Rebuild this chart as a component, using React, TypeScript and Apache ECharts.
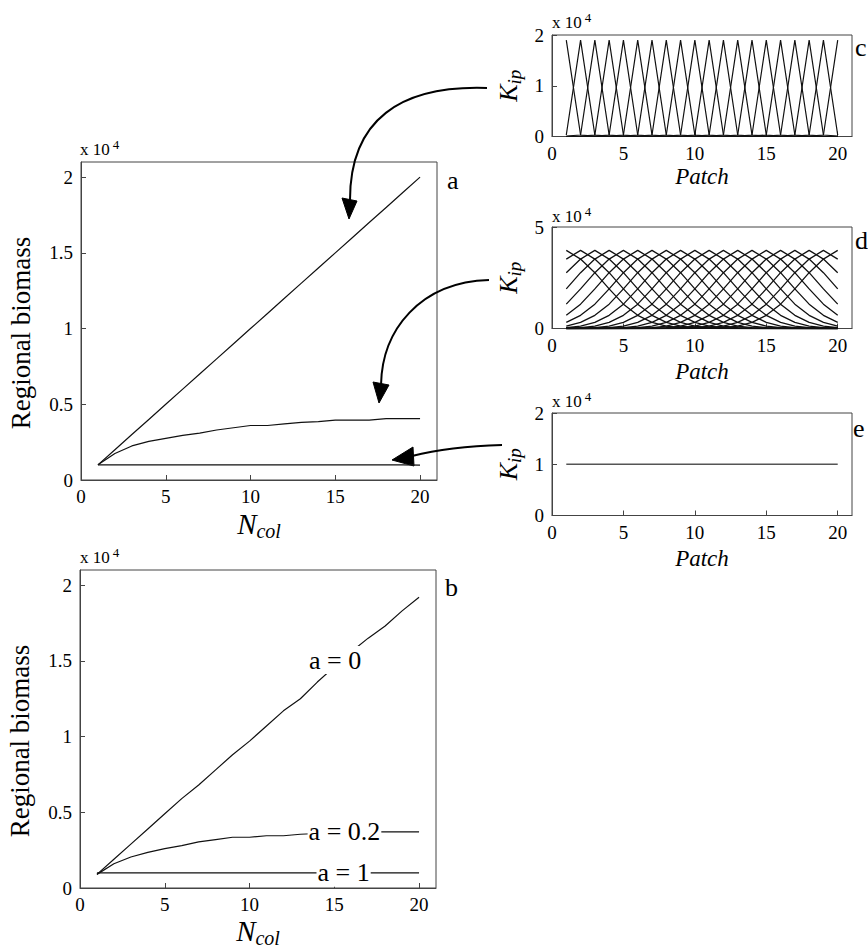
import React, { useEffect, useRef } from "react";
import * as echarts from "echarts";

// ---------- data ----------
const nCol = [1, 2, 3, 4, 5, 6, 7, 8, 9, 10, 11, 12, 13, 14, 15, 16, 17, 18, 19, 20];
const patches = [1, 2, 3, 4, 5, 6, 7, 8, 9, 10, 11, 12, 13, 14, 15, 16, 17, 18, 19, 20];
const species = [1, 2, 3, 4, 5, 6, 7, 8, 9, 10, 11, 12, 13, 14, 15, 16, 17, 18, 19, 20];

// panel a (x 10^4)
const aBiomassA0 = [0.1, 0.2, 0.3, 0.4, 0.5, 0.6, 0.7, 0.8, 0.9, 1.0, 1.1, 1.2, 1.3, 1.4, 1.5, 1.6, 1.7, 1.8, 1.9, 2.0];
const aBiomassA02 = [0.1, 0.175, 0.225, 0.255, 0.275, 0.295, 0.31, 0.33, 0.345, 0.36, 0.36, 0.37, 0.38, 0.385, 0.395, 0.395, 0.395, 0.405, 0.405, 0.405];
const aBiomassA1 = [0.1, 0.1, 0.1, 0.1, 0.1, 0.1, 0.1, 0.1, 0.1, 0.1, 0.1, 0.1, 0.1, 0.1, 0.1, 0.1, 0.1, 0.1, 0.1, 0.098];

// panel b (x 10^4)
const bBiomassA0 = [0.09, 0.19, 0.29, 0.39, 0.49, 0.59, 0.68, 0.78, 0.88, 0.97, 1.07, 1.17, 1.25, 1.36, 1.46, 1.56, 1.65, 1.73, 1.83, 1.92];
const bBiomassA02 = [0.09, 0.16, 0.205, 0.235, 0.26, 0.28, 0.305, 0.32, 0.335, 0.335, 0.345, 0.345, 0.355, 0.36, 0.365, 0.365, 0.37, 0.37, 0.37, 0.37];
const bBiomassA1 = [0.1, 0.1, 0.1, 0.1, 0.1, 0.1, 0.1, 0.1, 0.1, 0.1, 0.1, 0.1, 0.1, 0.1, 0.1, 0.1, 0.1, 0.1, 0.1, 0.1];
const bLabels = ["a = 0", "a = 0.2", "a = 1"];
const bLabelAnchors = [[15.05, 1.505], [15.6, 0.37], [15.55, 0.1]];

// panels c, d: K_ip (x 10^4) as a function of distance |patch - optimum patch|
const cProfile = [1.9, 0.03, 0.01, 0, 0, 0, 0, 0, 0, 0, 0, 0, 0, 0, 0, 0, 0, 0, 0, 0];
const dProfile = [3.85, 3.42, 2.75, 1.95, 1.2, 0.65, 0.3, 0.12, 0.04, 0.012, 0.003, 0, 0, 0, 0, 0, 0, 0, 0, 0];
// panel e: identical K_ip for every patch
const eK = [1, 1, 1, 1, 1, 1, 1, 1, 1, 1, 1, 1, 1, 1, 1, 1, 1, 1, 1, 1];

const yTicksAB = { min: 0, max: 2.1, interval: 0.5 };
const yTicksC = { min: 0, max: 2, interval: 1 };
const yTicksD = { min: 0, max: 5, interval: 5 };
const yTicksE = { min: 0, max: 2, interval: 1 };

// ---------- styles ----------
const serif = "Liberation Serif, Tinos, Times New Roman, serif";
const axisColor = "#444";
const lineColor = "#111";

function pairs(xs: number[], ys: number[]) {
  return xs.map((x, i) => [x, ys[i]]);
}

function xAxis(gridIndex: number, name: string, nameGap: number, italicName: boolean, sub: boolean) {
  return {
    type: "value",
    gridIndex,
    min: 0,
    max: 21,
    interval: 5,
    axisLine: { show: true, onZero: false, lineStyle: { color: axisColor, width: 1 } },
    axisTick: { show: true, inside: true, length: 5, lineStyle: { color: axisColor } },
    axisLabel: { show: true, color: "#000", fontFamily: serif, fontSize: 19, margin: 7, showMaxLabel: false },
    splitLine: { show: false },
    name,
    nameLocation: "middle",
    nameGap,
    nameTextStyle: sub
      ? {
          color: "#000",
          fontFamily: serif,
          rich: {
            n: { fontSize: 29, fontStyle: "italic", fontFamily: serif, color: "#000" },
            s: { fontSize: 20, fontStyle: "italic", fontFamily: serif, color: "#000", padding: [14, 0, 0, 0] },
          },
        }
      : { color: "#000", fontFamily: serif, fontSize: 23, fontStyle: italicName ? "italic" : "normal" },
  };
}

function yAxis(gridIndex: number, ticks: any, name: string, nameGap: number, rich: boolean, showMax: boolean) {
  return {
    type: "value",
    gridIndex,
    min: ticks.min,
    max: ticks.max,
    interval: ticks.interval,
    axisLine: { show: true, onZero: false, lineStyle: { color: axisColor, width: 1 } },
    axisTick: { show: true, inside: true, length: 5, lineStyle: { color: axisColor } },
    axisLabel: { show: true, color: "#000", fontFamily: serif, fontSize: 19, margin: 8, showMaxLabel: showMax },
    splitLine: { show: false },
    name,
    nameLocation: "middle",
    nameGap,
    nameTextStyle: rich
      ? {
          color: "#000",
          fontFamily: serif,
          rich: {
            k: { fontSize: 26, fontStyle: "italic", fontFamily: serif, color: "#000" },
            s: { fontSize: 19, fontStyle: "italic", fontFamily: serif, color: "#000", padding: [12, 0, 0, 0] },
          },
        }
      : { color: "#000", fontFamily: serif, fontSize: 27, padding: [0, 24, 0, 0] },
  };
}

function grid(left: number, top: number, width: number, height: number) {
  return {
    left,
    top,
    width,
    height,
    show: true,
    borderColor: axisColor,
    borderWidth: 1,
    backgroundColor: "transparent",
    containLabel: false,
    outerBoundsMode: "none",
  };
}

function lineSeries(idx: number, data: number[][], extra: any = {}) {
  return {
    type: "line",
    xAxisIndex: idx,
    yAxisIndex: idx,
    data,
    showSymbol: false,
    symbol: "none",
    silent: true,
    lineStyle: { color: lineColor, width: 1.2 },
    ...extra,
  };
}

function profileSeries(idx: number, profile: number[], width: number) {
  return species.map((s) =>
    lineSeries(
      idx,
      patches.map((p) => [p, profile[Math.abs(p - s)]]),
      { lineStyle: { color: lineColor, width } }
    )
  );
}

function expText(x: number, y: number) {
  return {
    type: "text",
    x,
    y,
    style: {
      text: "{b|x 10}{p|4}",
      fill: "#000",
      rich: {
        b: { fontSize: 17, fontFamily: serif, fill: "#000", color: "#000" },
        p: { fontSize: 13, fontFamily: serif, fill: "#000", color: "#000", padding: [0, 0, 9, 3] },
      },
    },
  };
}

function letter(t: string, x: number, y: number) {
  return {
    type: "text",
    x,
    y,
    style: { text: t, fontSize: 26, fontFamily: serif, fill: "#000", verticalAlign: "middle", textVerticalAlign: "middle" },
  };
}

function arrow(curve: number[], head: number[][]) {
  const [x1, y1, cpx1, cpy1, cpx2, cpy2, x2, y2] = curve;
  return [
    {
      type: "bezierCurve",
      shape: { x1, y1, cpx1, cpy1, cpx2, cpy2, x2, y2 },
      style: { stroke: "#000", lineWidth: 2, fill: "none" },
    },
    { type: "polygon", shape: { points: head }, style: { fill: "#000", stroke: "#000", lineWidth: 1 } },
  ];
}

export default function App() {
  const ref = useRef<HTMLDivElement>(null);
  useEffect(() => {
    if (!ref.current) return;
    const chart = echarts.init(ref.current, null, { renderer: "svg" });
    const bSeries = [bBiomassA0, bBiomassA02, bBiomassA1].map((vals, i) =>
      lineSeries(1, pairs(nCol, vals), {
        markPoint: {
          symbol: "circle",
          symbolSize: 1,
          silent: true,
          z: 10,
          itemStyle: { color: "rgba(0,0,0,0)" },
          label: {
            show: true,
            position: "inside",
            formatter: "{b}",
            color: "#000",
            fontFamily: serif,
            fontSize: 26,
            backgroundColor: "#fff",
            padding: [1, 1],
          },
          data: [{ name: bLabels[i], coord: bLabelAnchors[i] }],
        },
      })
    );
    const option: any = {
      animation: false,
      backgroundColor: "#fff",
      textStyle: { fontFamily: serif },
      grid: [
        grid(81, 162, 356, 318),
        grid(80, 570, 356, 318),
        grid(552, 35, 300, 101.5),
        grid(552, 227, 300, 101.5),
        grid(552, 413, 300, 102.5),
      ],
      xAxis: [
        xAxis(0, "{n|N}{s|col}", 27, false, true),
        xAxis(1, "{n|N}{s|col}", 26, false, true),
        xAxis(2, "Patch", 28, true, false),
        xAxis(3, "Patch", 31, true, false),
        xAxis(4, "Patch", 31, true, false),
      ],
      yAxis: [
        yAxis(0, yTicksAB, "Regional biomass", 47, false, false),
        yAxis(1, yTicksAB, "Regional biomass", 47, false, false),
        yAxis(2, yTicksC, "{k|K}{s|ip}", 28, true, true),
        yAxis(3, yTicksD, "{k|K}{s|ip}", 28, true, true),
        yAxis(4, yTicksE, "{k|K}{s|ip}", 28, true, true),
      ],
      series: [
        lineSeries(0, pairs(nCol, aBiomassA0)),
        lineSeries(0, pairs(nCol, aBiomassA02)),
        lineSeries(0, pairs(nCol, aBiomassA1)),
        ...bSeries,
        ...profileSeries(2, cProfile, 1.2),
        ...profileSeries(3, dProfile, 1.3),
        lineSeries(4, pairs(patches, eK), { lineStyle: { color: "#555", width: 1.3 } }),
      ],
      graphic: [
        expText(80, 138),
        expText(80, 546),
        expText(552, 11),
        expText(552, 205),
        expText(552, 390),
        letter("a", 447, 180),
        letter("b", 445, 587),
        letter("c", 855, 47),
        letter("d", 855, 240),
        letter("e", 853, 428),
        ...arrow([487, 88, 400, 85, 350, 120, 350, 200], [[342, 198], [357, 201], [349, 219]]),
        ...arrow([489, 280, 420, 282, 382, 330, 381, 385], [[373, 382], [389, 385], [379, 403]]),
        ...arrow([502, 445, 470, 446, 440, 449, 412, 456], [[413, 447], [414, 466], [392, 460]]),
      ],
    };
    chart.setOption(option);
    return () => chart.dispose();
  }, []);
  return (
    <div
      ref={ref}
      style={{ position: "absolute", left: 0, top: 0, width: 868, height: 952, background: "#fff" }}
    />
  );
}
